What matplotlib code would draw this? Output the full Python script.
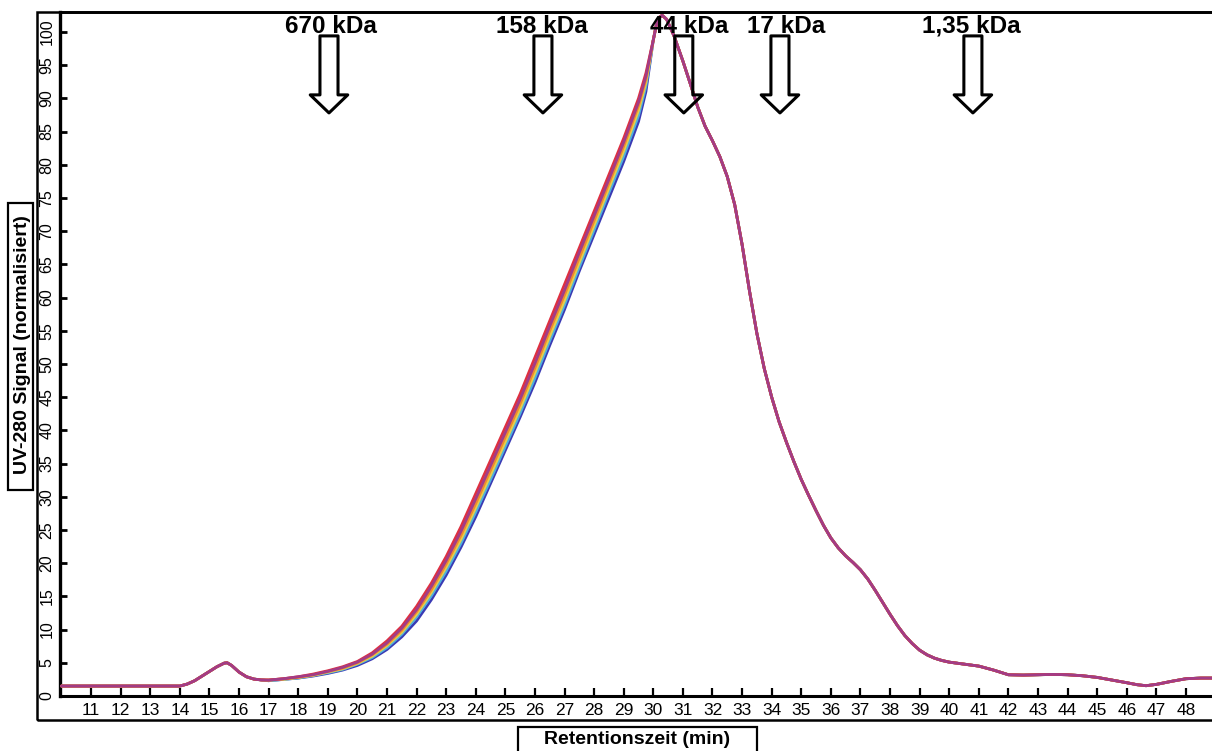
import matplotlib
matplotlib.use("Agg")
import matplotlib.pyplot as plt
from matplotlib.patches import Rectangle

plt.rcParams['font.family'] = ['Liberation Sans', 'DejaVu Sans']

# ---------------- data ----------------
# shared start of all runs (baseline + void peak)
x_head = [10, 11, 12, 13, 14, 14.25, 14.5, 14.75, 15, 15.25, 15.5, 15.6, 15.75, 16, 16.25, 16.5, 16.75]
y_head = [1.5, 1.5, 1.5, 1.5, 1.5, 1.8, 2.3, 3.0, 3.7, 4.4, 4.95, 5.0, 4.6, 3.6, 2.9, 2.55, 2.42]

# rising flank, where the runs differ slightly
x_rise = [17, 17.5, 18, 18.5, 19, 19.5, 20, 20.5, 21, 21.5, 22, 22.5, 23, 23.5, 24,
          24.5, 25, 25.5, 26, 26.5, 27, 27.5, 28, 28.5, 29, 29.5, 29.75]
rise_red    = [2.4, 2.6, 2.9, 3.3, 3.8, 4.4, 5.2, 6.5, 8.3, 10.5, 13.5, 17.0, 21.0, 25.5, 30.5,
               35.5, 40.5, 45.5, 51.0, 56.5, 62.0, 67.5, 73.0, 78.5, 84.0, 90.0, 93.8]
rise_purple = [2.4, 2.6, 2.9, 3.2, 3.7, 4.3, 5.1, 6.3, 8.0, 10.2, 13.0, 16.5, 20.4, 24.8, 29.7,
               34.7, 39.7, 44.7, 50.1, 55.7, 61.1, 66.8, 72.3, 77.8, 83.4, 89.4, 93.3]
rise_orange = [2.4, 2.6, 2.8, 3.2, 3.7, 4.2, 5.0, 6.2, 7.8, 9.9, 12.7, 16.0, 19.9, 24.2, 29.0,
               34.0, 39.0, 44.0, 49.4, 55.0, 60.4, 66.0, 71.6, 77.2, 82.8, 88.9, 92.9]
rise_yellow = [2.4, 2.5, 2.8, 3.1, 3.6, 4.1, 4.9, 6.0, 7.6, 9.6, 12.3, 15.6, 19.4, 23.6, 28.4,
               33.3, 38.3, 43.3, 48.7, 54.2, 59.6, 65.3, 70.9, 76.5, 82.1, 88.2, 92.4]
rise_cyan   = [2.3, 2.5, 2.7, 3.1, 3.5, 4.0, 4.8, 5.8, 7.3, 9.3, 11.9, 15.1, 18.8, 23.0, 27.7,
               32.6, 37.6, 42.6, 47.9, 53.5, 58.9, 64.6, 70.2, 75.8, 81.3, 87.4, 91.8]
rise_blue   = [2.3, 2.5, 2.7, 3.0, 3.4, 3.9, 4.6, 5.6, 7.0, 8.9, 11.3, 14.5, 18.2, 22.4, 27.0,
               32.0, 37.0, 42.0, 47.2, 52.8, 58.2, 64.0, 69.5, 75.0, 80.5, 86.5, 91.0]

# shared rounded peak top and falling flank
x_tail = [30.0, 30.1, 30.2, 30.3, 30.45, 30.7, 31, 31.25, 31.5, 31.75, 32, 32.25, 32.5, 32.75, 33,
          33.25, 33.5, 33.75, 34, 34.25, 34.5, 34.75, 35, 35.25, 35.5, 35.75, 36, 36.25, 36.5,
          36.75, 37, 37.25, 37.5, 37.75, 38, 38.25, 38.5, 38.75, 39, 39.25, 39.5, 39.75, 40,
          40.5, 41, 41.5, 42, 42.5, 43, 43.5, 44, 44.5, 45, 45.5, 46, 46.35, 46.65, 47,
          47.5, 48, 48.5, 49]
y_tail = [98.8, 101.0, 102.2, 102.5, 101.9, 99.4, 95.6, 92.2, 88.7, 85.8, 83.6, 81.2, 78.2, 74.0, 68.0,
          61.0, 54.6, 49.3, 45.0, 41.3, 38.2, 35.3, 32.6, 30.2, 27.9, 25.7, 23.8, 22.3, 21.1,
          20.1, 19.0, 17.6, 15.9, 14.1, 12.3, 10.6, 9.1, 7.9, 6.9, 6.2, 5.7, 5.35, 5.1,
          4.8, 4.5, 3.9, 3.2, 3.15, 3.2, 3.25, 3.2, 3.05, 2.8, 2.4, 2.0, 1.7, 1.55, 1.75,
          2.2, 2.6, 2.7, 2.7]

run_names = ['blue', 'cyan', 'yellow', 'orange', 'red', 'purple']
run_rises = [rise_blue, rise_cyan, rise_yellow, rise_orange, rise_red, rise_purple]
run_colors = ['#3a3ab4', '#4fb0dc', '#e6cf4a', '#f08a2c', '#de3040', '#a23c86']

standards = ['670 kDa', '158 kDa', '44 kDa', '17 kDa', '1,35 kDa']
standard_times = [19.04, 26.27, 31.03, 34.28, 40.80]
label_times = [19.11, 26.24, 31.20, 34.48, 40.76]

x_ticks = list(range(11, 49))
y_ticks = list(range(0, 101, 5))

# ---------------- figure ----------------
W, H = 1212, 751
fig = plt.figure(figsize=(W / 100, H / 100), dpi=100)

ax_l, ax_r, ax_b, ax_t = 60, 1212, 696, 12
ax = fig.add_axes([ax_l / W, (H - ax_b) / H, (ax_r - ax_l) / W, (ax_b - ax_t) / H])

for rise, col in zip(run_rises, run_colors):
    xs = x_head + x_rise + x_tail
    ys = y_head + rise + y_tail
    ax.plot(xs, ys, color=col, lw=2.0, solid_joinstyle='round', solid_capstyle='round', zorder=3)

ax.set_xlim(9.95, 48.88)
ax.set_ylim(0, 103)
ax.set_xticks(x_ticks)
ax.set_yticks(y_ticks)
ax.set_xticklabels([str(v) for v in x_ticks], fontsize=12.5)
ax.set_yticklabels([str(v) for v in y_ticks], fontsize=11.5, rotation=90, va='center')

ax.tick_params(axis='x', direction='in', length=6, width=1.6, pad=5)
ax.tick_params(axis='y', direction='in', length=5, width=2, pad=4)

ax.spines['right'].set_visible(False)
ax.spines['left'].set_linewidth(2.4)
ax.spines['bottom'].set_linewidth(2.2)
ax.spines['top'].set_linewidth(2.0)

# outer frame around tick-label bands
frame = Rectangle((37 / W, (H - 720) / H), (1230 - 37) / W, (720 - 12) / H,
                  transform=fig.transFigure, fill=False, ec='black', lw=1.8, clip_on=False)
fig.patches.append(frame)

# molecular weight standards: hollow block arrows + labels
for name, t, lt in zip(standards, standard_times, label_times):
    ax.annotate('', xy=(t, 87.8), xytext=(t, 99.4),
                arrowprops=dict(arrowstyle='simple,head_length=13,head_width=27,tail_width=13',
                                mutation_scale=1, fc='none', ec='black', lw=2.2,
                                shrinkA=0, shrinkB=0), zorder=4)
    ax.text(lt, 99.9, name, ha='center', va='baseline', fontsize=17.5, fontweight='bold', zorder=5)

# axis titles in boxes
ylab_box = Rectangle((8 / W, 1 - 490 / H), 25 / W, (490 - 203) / H, transform=fig.transFigure,
                     fc='white', ec='black', lw=1.6)
fig.patches.append(ylab_box)
fig.text(23 / W, 1 - 345 / H, 'UV-280 Signal (normalisiert)', rotation=90, ha='center', va='center',
         fontsize=14, fontweight='bold')
xlab_box = Rectangle((518 / W, 1 - 760 / H), (757 - 518) / W, (760 - 727) / H, transform=fig.transFigure,
                     fc='white', ec='black', lw=1.6, clip_on=False)
fig.patches.append(xlab_box)
fig.text(637 / W, 1 - 740 / H, 'Retentionszeit (min)', ha='center', va='center',
         fontsize=14, fontweight='bold')

fig.savefig('out.png', dpi=100)
